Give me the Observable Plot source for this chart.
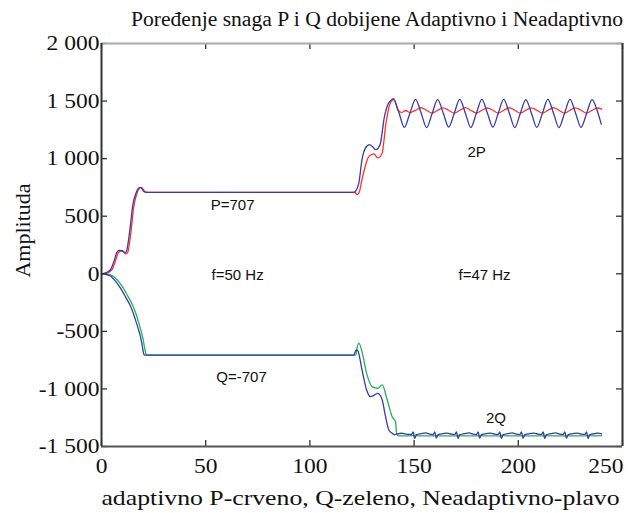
<!DOCTYPE html>
<html><head><meta charset="utf-8">
<script src="https://cdn.jsdelivr.net/npm/d3@7"></script>
<script src="https://cdn.jsdelivr.net/npm/@observablehq/plot@0.6"></script>
<style>body{margin:0;background:#fff}svg{display:block}</style>
</head><body><div id="chart"></div>
<script>
const title = "Poređenje snaga P i Q dobijene Adaptivno i Neadaptivno";
const xLabel = "adaptivno P-crveno, Q-zeleno, Neadaptivno-plavo";
const yLabel = "Amplituda";
const xTicks = [0, 50, 100, 150, 200, 250];
const yTicks = [-1500, -1000, -500, 0, 500, 1000, 1500, 2000];

// Adaptive P (red)
const pAdaptive = [[0,0],[2,3],[5,35],[6.5,100],[8,180],[9,198],[10.5,195],[11.8,172],[12.6,185],[13.7,300],[14.6,440],[15.3,556],[16.1,640],[16.9,690],[17.7,730],[18.5,748],[19.3,748],[20.1,730],[21,712],[22,707],[121.5,707],[122.8,688],[123.8,715],[125,820],[126.5,930],[128,1010],[129.5,1035],[130.7,1041],[132.6,1006],[134.7,1050],[135.5,1150],[136.3,1281],[137.3,1390],[138.3,1470],[140.3,1512],[142.2,1426],[144,1400],[146,1418],[148,1400],[150.7,1420],[153.4,1442],[156,1420],[158.7,1396],[161.3,1420],[164,1441],[166.6,1420],[169.3,1395],[171.9,1420],[174.6,1443],[177.2,1420],[179.9,1396],[182.5,1420],[185.2,1440],[187.8,1420],[190.4,1395],[193,1420],[195.7,1442],[198.3,1420],[201,1396],[203.6,1420],[206.3,1441],[208.9,1420],[211.6,1395],[214.2,1420],[216.9,1442],[219.5,1420],[222.2,1396],[224.8,1420],[227.5,1441],[230.1,1420],[232.8,1395],[235.4,1420],[238.1,1440],[240,1430]];

// Non-adaptive P (blue)
const pNonAdaptive = [[0,0],[2,8],[4.3,35],[6,110],[7.5,190],[8.5,203],[10,200],[11.2,180],[12,195],[13.1,310],[14,440],[14.7,556],[15.5,640],[16.3,687],[17.1,725],[17.9,745],[18.7,750],[19.5,735],[20.3,715],[21.5,707],[121,707],[122.2,725],[123.5,789],[125,991],[126.7,1093],[128.6,1122],[130,1105],[131.5,1078],[132.8,1092],[133.9,1136],[134.7,1230],[135.5,1339],[136.5,1420],[137.4,1470],[138.8,1505],[140,1520],[142.7,1400],[145.3,1272],[148,1395],[150.7,1515],[153.4,1395],[156,1270],[158.7,1395],[161.3,1512],[164,1395],[166.6,1274],[169.3,1395],[171.9,1515],[174.6,1395],[177.2,1270],[179.9,1395],[182.5,1514],[185.2,1395],[187.8,1273],[190.4,1395],[193,1515],[195.7,1395],[198.3,1270],[201,1395],[203.6,1513],[206.3,1395],[208.9,1272],[211.6,1395],[214.2,1515],[216.9,1395],[219.5,1270],[222.2,1395],[224.8,1514],[227.5,1395],[230.1,1272],[232.8,1395],[235.4,1512],[237.8,1420],[239.8,1300]];

// Adaptive Q (green)
const qAdaptive = [[0,0],[2.5,-3],[5,-15],[7.5,-52],[10,-112],[12.5,-190],[15,-275],[16.2,-330],[17.3,-390],[18.5,-465],[19.7,-545],[20.5,-625],[21.3,-695],[21.8,-707],[122,-707],[122.7,-640],[123.5,-603],[125,-676],[127.2,-863],[129.9,-980],[132.6,-994],[134.7,-965],[137.1,-1096],[139.5,-1241],[141.1,-1284],[141.6,-1386],[142.2,-1405],[143,-1408],[150,-1406],[151,-1400],[152,-1408],[160.4,-1408],[161.4,-1402],[162.4,-1408],[170.8,-1407],[171.8,-1401],[172.8,-1408],[181.2,-1408],[182.2,-1402],[183.2,-1408],[191.6,-1407],[192.6,-1401],[193.6,-1408],[202,-1408],[203,-1402],[204,-1408],[212.4,-1407],[213.4,-1401],[214.4,-1408],[222.8,-1408],[223.8,-1402],[224.8,-1408],[233.2,-1407],[234.2,-1401],[235.2,-1408],[240,-1406]];

// Non-adaptive Q (blue)
const qNonAdaptive = [[0,0],[2,-5],[4.3,-20],[6.5,-60],[9,-122],[11.5,-200],[14,-284],[15.2,-340],[16.3,-400],[17.5,-470],[18.7,-545],[19.5,-620],[20.3,-698],[20.8,-707],[121,-707],[122.2,-661],[123,-668],[125,-835],[127.2,-1009],[129.1,-1067],[130.5,-1058],[132.6,-1038],[134.7,-1096],[136.3,-1241],[137.9,-1357],[139.5,-1386],[140.5,-1398],[142,-1390],[144,-1385],[146,-1392],[148.8,-1395],[149.5,-1374],[150.3,-1430],[151.2,-1397],[153.5,-1388],[155.5,-1382],[157.5,-1392],[159.2,-1396],[159.9,-1373],[160.7,-1428],[161.6,-1396],[163.9,-1388],[165.9,-1383],[167.9,-1393],[169.6,-1395],[170.3,-1374],[171.1,-1430],[172,-1397],[174.3,-1388],[176.3,-1382],[178.3,-1392],[180,-1396],[180.7,-1373],[181.5,-1428],[182.4,-1396],[184.7,-1388],[186.7,-1383],[188.7,-1393],[190.4,-1395],[191.1,-1374],[191.9,-1430],[192.8,-1397],[195.1,-1388],[197.1,-1382],[199.1,-1392],[200.8,-1396],[201.5,-1373],[202.3,-1428],[203.2,-1396],[205.5,-1388],[207.5,-1383],[209.5,-1393],[211.2,-1395],[211.9,-1374],[212.7,-1430],[213.6,-1397],[215.9,-1388],[217.9,-1382],[219.9,-1392],[221.6,-1396],[222.3,-1373],[223.1,-1428],[224,-1396],[226.3,-1388],[228.3,-1383],[230.3,-1393],[232,-1395],[232.7,-1374],[233.5,-1430],[234.4,-1397],[236.7,-1388],[238.5,-1384],[240,-1390]];

const notes = ["P=707", "f=50 Hz", "Q=-707", "f=47 Hz", "2P", "2Q"];
const noteX = [62.9, 65.3, 67.2, 183.8, 180, 189.3];
const noteY = [593, -15, -901, -15, 1056, -1257];

const W = 632, H = 513, mL = 101, mR = 10, mT = 43, mB = 67;
const pw = W - mL - mR, ph = H - mT - mB;
const loc = d3.formatLocale({decimal: ".", thousands: " ", grouping: [3], currency: ["", ""], minus: "-"});
const fmt = loc.format(",d");
const noteRows = notes.map((n, i) => ({n, x: noteX[i], y: noteY[i]}));
const serif = "'Liberation Serif', 'Times New Roman', serif";
const lo = {x: d => d[0], y: d => d[1], curve: "monotone-x", strokeWidth: 1.3};
const xtl = {x: d => d, text: d => String(d), frameAnchor: "bottom", lineAnchor: "middle", dy: 20, fontSize: 21, fill: "#111"};

const chart = Plot.plot({
  width: W, height: H, marginLeft: mL, marginRight: mR, marginTop: mT, marginBottom: mB,
  style: {fontFamily: serif, fontSize: "21px", background: "#fff", color: "#111"},
  x: {domain: [0, 250], axis: null},
  y: {domain: [-1500, 2000]},
  marks: [
    Plot.axisY(yTicks, {tickSize: 0, tickPadding: 2, tickFormat: fmt, label: null}),
    Plot.text(xTicks.slice(0, -1), {...xtl}),
    Plot.text(xTicks.slice(-1), {...xtl, textAnchor: "end", dx: 1}),
    Plot.line(pAdaptive, {...lo, stroke: "#ff3030"}),
    Plot.line(qAdaptive, {...lo, stroke: "#1fb060"}),
    Plot.line(pNonAdaptive, {...lo, stroke: "#3b3ba6"}),
    Plot.line(qNonAdaptive, {...lo, stroke: "#3b3ba6"}),
    Plot.tickY(yTicks, {y: d => d, insetRight: pw - 6, stroke: "#333", strokeWidth: 1.3}),
    Plot.tickY(yTicks, {y: d => d, insetLeft: pw - 6, stroke: "#333", strokeWidth: 1.3}),
    Plot.tickX(xTicks, {x: d => d, insetTop: ph - 6, stroke: "#333", strokeWidth: 1.3}),
    Plot.tickX(xTicks, {x: d => d, insetBottom: ph - 6, stroke: "#333", strokeWidth: 1.3}),
    Plot.ruleY([2000], {stroke: "#aaa", strokeWidth: 2}),
    Plot.ruleY([-1500], {stroke: "#555", strokeWidth: 2}),
    Plot.ruleX([0], {stroke: "#333", strokeWidth: 2}),
    Plot.ruleX([250], {stroke: "#333", strokeWidth: 2}),
    Plot.text(noteRows, {x: "x", y: "y", text: "n", fontFamily: "'Liberation Sans', Arial, sans-serif", fontSize: 15, fill: "#111"}),
    Plot.text([title], {frameAnchor: "top", lineAnchor: "middle", textAnchor: "middle", dx: 15, dy: -24, fontSize: 21.6, fill: "#111"}),
    Plot.text([xLabel], {frameAnchor: "bottom", lineAnchor: "middle", textAnchor: "middle", dx: -1.5, dy: 51, fontSize: 22, fill: "#111"}),
    Plot.text([yLabel], {frameAnchor: "left", lineAnchor: "middle", textAnchor: "middle", dx: -79, dy: -14.5, rotate: -90, fontSize: 22, fill: "#111"})
  ]
});
document.getElementById("chart").appendChild(chart);
// widen the serif glyphs horizontally, as in the reference's stretched typeface
d3.select(chart).selectAll("text").each(function() {
  const s = this.textContent;
  let k = 0;
  if (/^-?[\d ]+$/.test(s)) k = 1.12;
  else if (s === xLabel) k = 1.17;
  if (k) {
    const len = this.getComputedTextLength();
    this.setAttribute("textLength", len * k);
    this.setAttribute("lengthAdjust", "spacingAndGlyphs");
  }
});
</script>
</body></html>
